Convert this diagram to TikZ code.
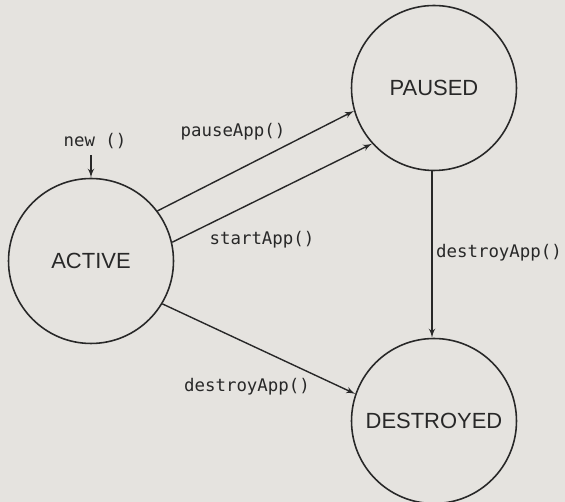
\documentclass[tikz,border=0pt]{standalone}
\usepackage{fontspec}
\setmainfont{Liberation Sans}
\newfontfamily\callfont{DejaVu Sans Mono}
\usepackage{tikz}
\usetikzlibrary{arrows, positioning}
\definecolor{paper}{RGB}{229,227,223}
\definecolor{ink}{RGB}{40,40,40}

\begin{document}
\begin{tikzpicture}[x=0.02cm, y=-0.02cm,
  state/.style={draw=ink, line width=0.9pt, circle, minimum size=3.3cm,
    inner sep=0pt, text=ink, font=\fontsize{12.5}{14}\selectfont},
  call/.style={text=ink, font=\callfont\fontsize{9.9}{11}\selectfont},
  trans/.style={->, >=latex', draw=ink, line width=0.8pt}]
% the sheet behind everything
\fill[paper] (0,0) rectangle (565,502);
\useasboundingbox (0,0) rectangle (565,502);
% we draw the three states
\node[state] (active) at (91,261) {ACTIVE};
\node[state] (paused) at (434,88) {PAUSED};
\node[state] (destroyed) at (434,421) {DESTROYED};
% the app is created
\node[call] (new) at (95,141) {new ()};
\draw[trans] (new.south -| active) -- (active);
% we draw the transitions between the states
\draw[trans] (active.37) -- (paused.196);
\draw[trans] (active.13) -- (paused.222);
\draw[trans] (paused.south -| 432,0) -- (destroyed.north -| 432,0);
\draw[trans] (active.-31) -- (destroyed.161);
% and place the labels
\foreach \name/\where/\text in {pause/{(233,132)}/pauseApp(),
  start/{(262,240)}/startApp(),
  down/{(499,253)}/destroyApp(),
  kill/{(247,387)}/destroyApp()}
{
  \node[call] (\name) at \where {\text};
}
%
\end{tikzpicture}
\end{document}
